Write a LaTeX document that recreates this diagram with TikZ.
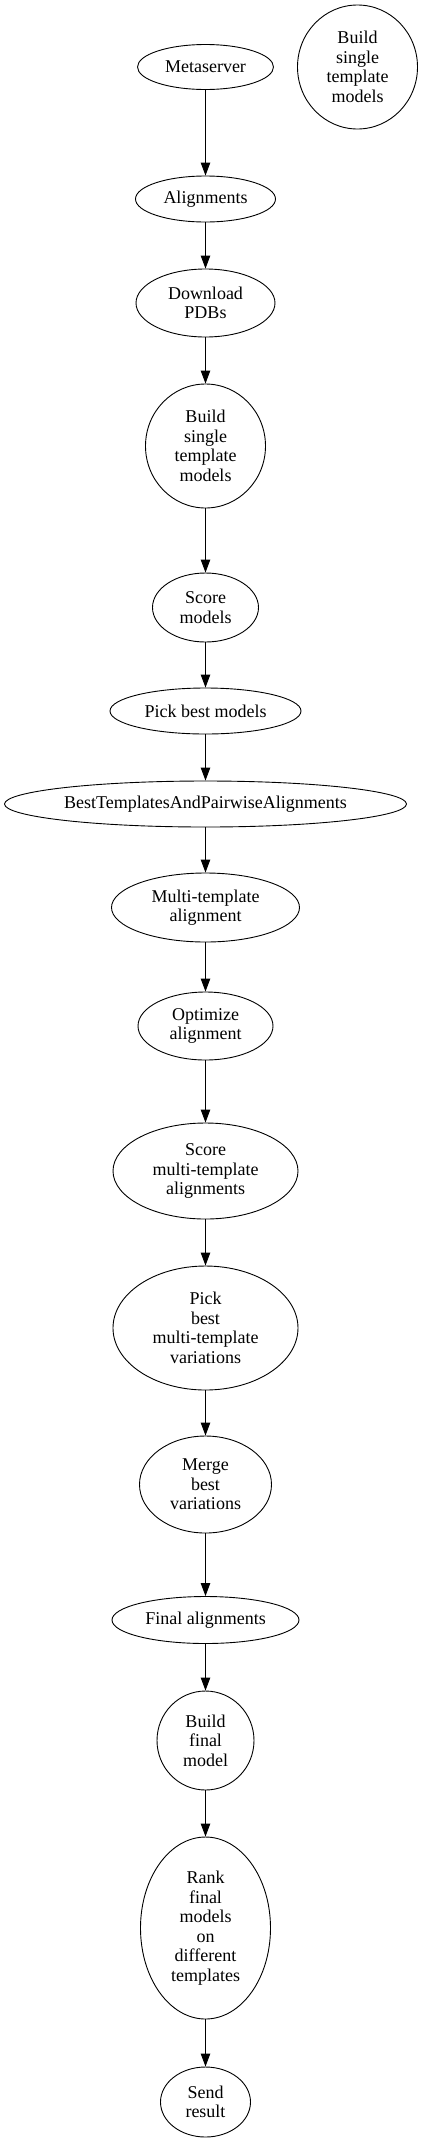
\documentclass[tikz,border=0pt]{standalone}
\usepackage{fontspec}
\setmainfont{Liberation Serif}
\usetikzlibrary{shapes.geometric,arrows.meta}
\begin{document}
\begin{tikzpicture}[x=1pt,y=-1pt,
  stage/.style={shape=ellipse,draw,line width=0.9pt,inner sep=0pt,align=center,
    font=\fontsize{18}{19.5}\selectfont},
  flow/.style={line width=0.9pt,-{Triangle[length=13pt,width=9.5pt]}}]
\useasboundingbox (0,0) rectangle (423,2150);
\def\cx{205.5}
\node[stage,minimum width=136pt,minimum height=45pt] (meta) at (\cx,67) {Metaserver};
\node[stage,minimum width=120pt,minimum height=124pt] (lone) at (357.5,67) {Build\\single\\template\\models};
\node[stage,minimum width=140pt,minimum height=46pt] (align) at (\cx,199) {Alignments};
\node[stage,minimum width=139pt,minimum height=68pt] (pdb) at (\cx,303) {Download\\PDBs};
\node[stage,minimum width=120pt,minimum height=124pt] (build) at (\cx,446) {Build\\single\\template\\models};
\node[stage,minimum width=106pt,minimum height=69pt] (score) at (\cx,607.5) {Score\\models};
\node[stage,minimum width=191pt,minimum height=46pt] (pick) at (\cx,711) {Pick best models};
\node[stage,minimum width=402pt,minimum height=46pt] (best) at (\cx,804) {BestTemplatesAndPairwiseAlignments};
\node[stage,minimum width=188pt,minimum height=69pt] (multi) at (\cx,907.5) {Multi-template\\alignment};
\node[stage,minimum width=135pt,minimum height=68pt] (opt) at (\cx,1026) {Optimize\\alignment};
\node[stage,minimum width=185pt,minimum height=96pt] (scoremt) at (\cx,1171) {Score\\multi-template\\alignments};
\node[stage,minimum width=185pt,minimum height=124pt] (pickmt) at (\cx,1328) {Pick\\best\\multi-template\\variations};
\node[stage,minimum width=132pt,minimum height=97pt] (merge) at (\cx,1484.5) {Merge\\best\\variations};
\node[stage,minimum width=187pt,minimum height=47pt] (final) at (\cx,1620) {Final alignments};
\node[stage,minimum width=97pt,minimum height=99pt] (bfm) at (\cx,1740.5) {Build\\final\\model};
\node[stage,minimum width=130pt,minimum height=182pt] (rank) at (\cx,1928) {Rank\\final\\models\\on\\different\\templates};
\node[stage,minimum width=90pt,minimum height=70pt] (send) at (\cx,2102) {Send\\result};
\foreach \a/\b in {meta/align,align/pdb,pdb/build,build/score,score/pick,pick/best,best/multi,multi/opt,opt/scoremt,scoremt/pickmt,pickmt/merge,merge/final,final/bfm,bfm/rank,rank/send}
  \draw[flow] (\a) -- (\b);
\end{tikzpicture}
\end{document}
